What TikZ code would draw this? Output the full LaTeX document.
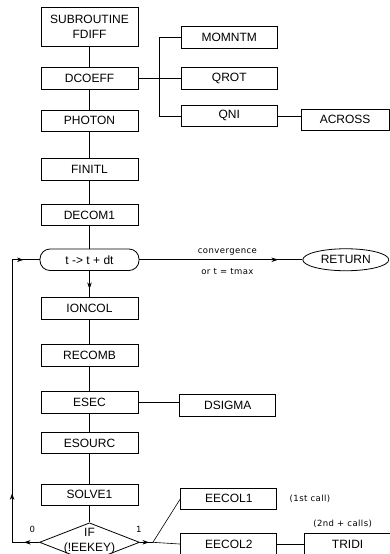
\documentclass[tikz,border=0pt]{standalone}
\usepackage{fontspec}
\setmainfont{Liberation Sans}
\newfontfamily\notefont{DejaVu Sans}[LetterSpace=5]
\usepackage{tikz}
\usetikzlibrary{arrows.meta, positioning, shapes.geometric, decorations.markings, calc}

\begin{document}
\begin{tikzpicture}[
    x=1pt, y=-1pt,
    routine/.style={rectangle, minimum width=97pt, minimum height=21.5pt, inner sep=0pt, align=center, draw=black, line width=0.8pt, font=\fontsize{12}{15}\selectfont},
    callee/.style={routine, minimum width=96pt},
    loopstep/.style={routine, rounded corners=10pt, minimum width=99pt},
    terminal/.style={ellipse, minimum width=86pt, minimum height=22pt, inner sep=0pt, draw=black, line width=0.8pt, font=\fontsize{12}{15}\selectfont},
    decision/.style={diamond, minimum width=100pt, minimum height=39pt, inner sep=0pt, draw=black, line width=0.8pt},
    note/.style={font=\notefont\fontsize{8.5}{10}\selectfont},
    line/.style={draw=black, line width=0.6pt},
    tip/.style={postaction={decorate}, decoration={markings, mark=at position #1 with {\arrow{Stealth[length=6.5pt, width=4.5pt]}}}}
]
    \useasboundingbox (0,0) rectangle (390,554);

    % main sequence
    \node[routine, minimum height=39pt] (fdiff) at (89.5,26.5) {SUBROUTINE\\FDIFF};
    \node[routine, below=21pt of fdiff] (dcoeff) {DCOEFF};
    \node[routine, below=20pt of dcoeff] (photon) {PHOTON};
    \node[routine, below=26pt of photon] (finitl) {FINITL};
    \node[routine, below=23.5pt of finitl] (decom1) {DECOM1};
    \node[loopstep, below=22.5pt of decom1] (time_step) {t -> t + dt};
    \node[routine, below=26.5pt of time_step] (ioncol) {IONCOL};
    \node[routine, below=24.5pt of ioncol] (recomb) {RECOMB};
    \node[routine, below=24.5pt of recomb] (esec) {ESEC};
    \node[routine, below=18.5pt of esec] (esourc) {ESOURC};
    \node[routine, below=29.5pt of esourc] (solve1) {SOLVE1};
    \node[decision, below=16.5pt of solve1] (if_key) {};
    \node[align=center, font=\fontsize{12}{15}\selectfont, yshift=1.5pt] (if_text) at (if_key) {IF\\(!EEKEY)};

    % called routines
    \node[callee, right=42.5pt of dcoeff] (qrot) {QROT};
    \node[callee, above=19pt of qrot] (momntm) {MOMNTM};
    \node[callee, below=15pt of qrot] (qni) {QNI};
    \node[callee, minimum width=88pt, right=23pt of qni, yshift=-4pt] (across) {ACROSS};
    \node[terminal, right=163pt of time_step] (return) {RETURN};
    \node[callee, right=41pt of esec, yshift=-3pt] (dsigma) {DSIGMA};
    \node[callee, right=42pt of solve1, yshift=-4pt] (eecol1) {EECOL1};
    \node[callee, below=23pt of eecol1] (eecol2) {EECOL2};
    \node[callee, minimum width=86pt, right=27pt of eecol2] (tridi) {TRIDI};
    \node[note, right=9pt of eecol1] (first_call) {(1st call)};
    \node[note, above=2pt of tridi, xshift=-5pt] (next_calls) {(2nd + calls)};

    \coordinate (branch) at ($(dcoeff.east)!0.5!(qrot.west)$);
    \coordinate[right=13pt of if_key.east] (split);
    \coordinate[left=27pt of if_key.west] (loop_bottom);
    \coordinate (loop_top) at (loop_bottom |- time_step);

    % Connectors
    \draw[line] (fdiff) -- (dcoeff);
    \draw[line] (dcoeff) -- (photon);
    \draw[line] (photon) -- (finitl);
    \draw[line] (finitl) -- (decom1);
    \draw[line] (decom1) -- (time_step);
    \draw[line, tip=0.68] (time_step) -- (ioncol);
    \draw[line] (ioncol) -- (recomb);
    \draw[line] (recomb) -- (esec);
    \draw[line] (esec) -- (esourc);
    \draw[line] (esourc) -- (solve1);
    \draw[line] (solve1) -- (if_key);
    \draw[line] (dcoeff) -- (qrot);
    \draw[line] (momntm.west) -| (branch) |- (qni.west);
    \draw[line] (qni.east) -- (qni.east -| across.west);
    \draw[line] (esec.east) -- (esec.east -| dsigma.west);
    \draw[line, tip=0.85] (time_step) -- node[note, pos=0.54, above=1pt] {convergence} node[note, pos=0.54, below=5pt] {or t = tmax} (return);
    \draw[line, postaction={decorate}, decoration={markings,
        mark=at position 15pt with {\arrow{Stealth[length=6.5pt, width=4.5pt]}},
        mark=at position 76pt with {\arrow{Stealth[length=6.5pt, width=4.5pt]}},
        mark=at position 321pt with {\arrow{Stealth[length=6.5pt, width=4.5pt]}}}]
        (if_key.west) -- node[note, pos=0.25, above=6pt] {0} (loop_bottom) -- (loop_top) -- (time_step.west);
    \draw[line, tip=0.7] (if_key.east) -- node[note, pos=0, above=6pt, xshift=-1pt] {1} (split);
    \draw[line] (split) -- (eecol1.west);
    \draw[line] (split) -- (eecol2.west);
    \draw[line] (eecol2) -- (tridi);
\end{tikzpicture}
\end{document}
